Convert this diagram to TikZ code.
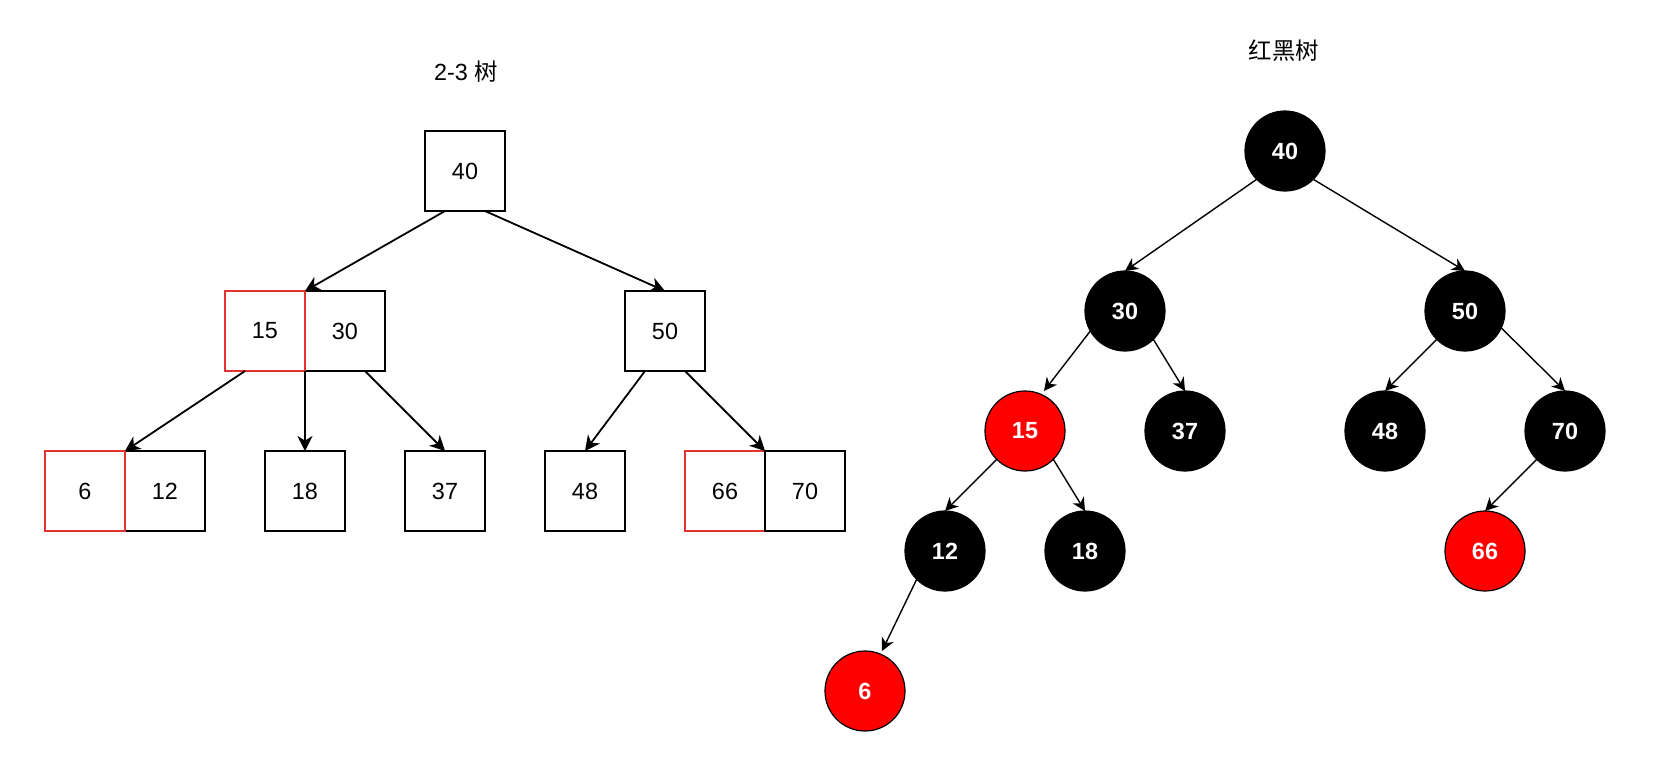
\documentclass[tikz,border=0pt]{standalone}
\usepackage{fontspec}
\setmainfont{Liberation Sans}
\newfontfamily\cjk{Noto Sans CJK SC}
\usetikzlibrary{arrows.meta,calc}
\definecolor{boxred}{RGB}{226,50,50}
\begin{document}
\begin{tikzpicture}[x=0.5pt,y=-0.5pt,
  font=\fontsize{11.7}{14}\selectfont,
  sq/.style={draw=black, line width=1pt, minimum width=40pt, minimum height=40pt, inner sep=0pt, outer sep=0pt},
  sqred/.style={sq, draw=boxred},
  rb/.style={circle, draw=black, fill=black, text=white, font=\fontsize{11.7}{14}\selectfont\bfseries, minimum size=40pt, inner sep=0pt, outer sep=0pt, line width=0.6pt},
  rr/.style={rb, fill=red},
  edge/.style={-{Stealth[length=7.5pt,width=7.5pt,inset=2.3pt]}, line width=0.9pt, black},
  rbedge/.style={-{Stealth[length=6.5pt,width=6.5pt,inset=2pt]}, line width=0.7pt, black}]
\useasboundingbox (0,0) rectangle (1656,766);
% titles
\node (t1) at (466,72) {2-3 {\cjk 树}};
\node (t2) at (1284,51) {\cjk 红黑树};
% 2-3 tree
\node[sq] (b40) at (465,171) {40};
\node[sq] (b30) at (345,331) {30};
\node[sqred] (b15) at (265,331) {15};
\node[sq] (b50) at (665,331) {50};
\node[sq] (b12) at (165,491) {12};
\node[sqred] (b6) at (85,491) {6};
\node[sq] (b18) at (305,491) {18};
\node[sq] (b37) at (445,491) {37};
\node[sq] (b48) at (585,491) {48};
\node[sqred] (b66) at (725,491) {66};
\node[sq] (b70) at (805,491) {70};
\draw[edge] ($(b40.south)+(-20,0)$) -- (b15.north east);
\draw[edge] ($(b40.south)+(20,0)$) -- (b50.north);
\draw[edge] ($(b15.south)+(-20,0)$) -- (b6.north east);
\draw[edge] (b15.south east) -- (b18.north);
\draw[edge] ($(b30.south)+(20,0)$) -- (b37.north);
\draw[edge] ($(b50.south)+(-20,0)$) -- (b48.north);
\draw[edge] ($(b50.south)+(20,0)$) -- (b66.north east);
% red-black tree
\node[rb] (r40) at (1285,151) {40};
\node[rb] (r30) at (1125,311) {30};
\node[rb] (r50) at (1465,311) {50};
\node[rr] (r15) at (1025,431) {15};
\node[rb] (r37) at (1185,431) {37};
\node[rb] (r48) at (1385,431) {48};
\node[rb] (r70) at (1565,431) {70};
\node[rb] (r12) at (945,551) {12};
\node[rb] (r18) at (1085,551) {18};
\node[rr] (r66) at (1485,551) {66};
\node[rr] (r6) at (865,691) {6};
\draw[rbedge] (r40.225) -- (r30.north);
\draw[rbedge] (r40.-45) -- (r50.north);
\draw[rbedge] (r30.210) -- ($(r15.north)+(19,0)$);
\draw[rbedge] (r30.-45) -- (r37.north);
\draw[rbedge] (r15.225) -- (r12.north);
\draw[rbedge] (r15.-45) -- (r18.north);
\draw[rbedge] (r12.225) -- ($(r6.north)+(17,0)$);
\draw[rbedge] (r50.225) -- (r48.north);
\draw[rbedge] (r50.-25) -- (r70.north);
\draw[rbedge] (r70.225) -- (r66.north);
\end{tikzpicture}
\end{document}
